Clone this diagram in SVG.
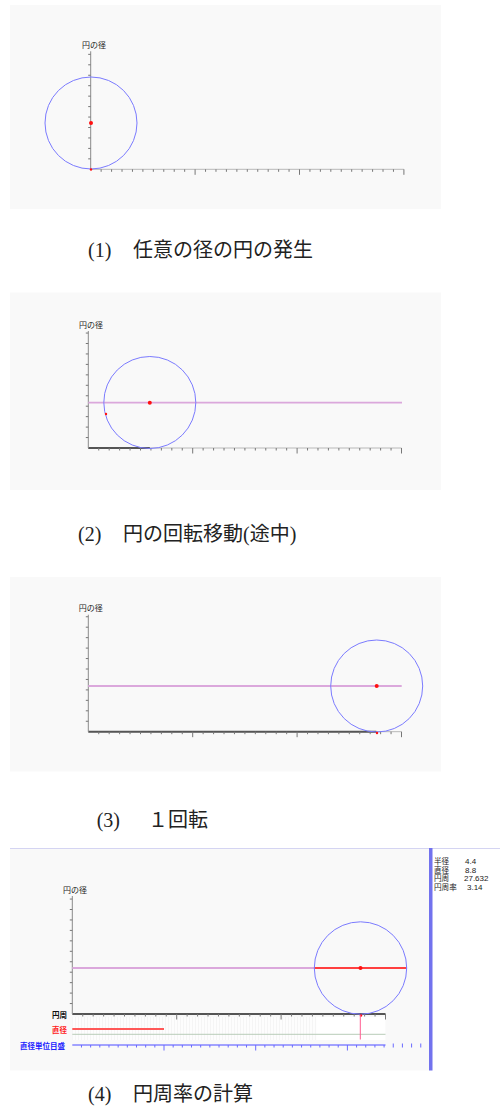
<svg xmlns="http://www.w3.org/2000/svg" width="500" height="1112" viewBox="0 0 500 1112" xmlns:xlink="http://www.w3.org/1999/xlink">
<style>
.bg{fill:#f9f9f9}
.tick{stroke:#777;stroke-width:1;fill:none}
.axl{stroke:#b8b8b8;stroke-width:1}
.axd{stroke:#555;stroke-width:2}
.vax{stroke:#8a8a8a;stroke-width:1}
.circ{fill:none;stroke:#7b7bff;stroke-width:1}
.purp{stroke:#dba8dc;stroke-width:1.8}
.dot{fill:#ff1010}
.lab{font-family:"Noto Sans CJK JP",sans-serif;font-size:8px;fill:#222}
.cap{font-family:"Liberation Serif","Noto Sans CJK JP",serif;font-size:20px;fill:#222}
.info{font-family:"Noto Sans CJK JP",sans-serif;font-size:7.6px;fill:#222}
.num{font-family:"Liberation Sans",sans-serif;font-size:8px}
.small{font-family:"Noto Sans CJK JP",sans-serif;font-size:7.5px;font-weight:bold}
</style>
<defs>
<path id="hticks" class="tick" d="M10.44 0v2.5M20.88 0v2.5M31.32 0v2.5M41.76 0v2.5M52.2 0v2.5M62.64 0v2.5M73.08 0v2.5M83.52 0v2.5M93.96 0v2.5M104.4 0v5.5M114.84 0v2.5M125.28 0v2.5M135.72 0v2.5M146.16 0v2.5M156.6 0v2.5M167.04 0v2.5M177.48 0v2.5M187.92 0v2.5M198.36 0v2.5M208.8 0v5.5M219.24 0v2.5M229.68 0v2.5M240.12 0v2.5M250.56 0v2.5M261 0v2.5M271.44 0v2.5M281.88 0v2.5M292.32 0v2.5M302.76 0v2.5M313.2 0v5.5"/>
<path id="vticks" class="tick" d="M-2.5 -10.45h2.5M-2.5 -20.9h2.5M-2.5 -31.35h2.5M-2.5 -41.8h2.5M-2.5 -52.25h2.5M-2.5 -62.7h2.5M-2.5 -73.15h2.5M-2.5 -83.6h2.5M-2.5 -94.05h2.5M-2.5 -104.5h2.5M-2.5 -114.95h2.5"/>
<pattern id="stripes" width="3" height="10" patternUnits="userSpaceOnUse">
<rect width="3" height="10" fill="#fdfdfd"/>
<rect width="1" height="10" fill="#f5f5f5"/>
</pattern>
</defs>

<g id="panel1">
<rect class="bg" x="10" y="5" width="431" height="204"/>
<g transform="translate(90.7,169.3)">
<line class="axl" x1="0" y1="0" x2="313.2" y2="0"/>
<use xlink:href="#hticks"/>
<line class="vax" x1="0" y1="0" x2="0" y2="-118"/>
<use xlink:href="#vticks"/>
</g>
<text class="lab" x="82" y="48">円の径</text>
<circle class="circ" cx="91" cy="123" r="46"/>
<circle class="dot" cx="91" cy="123" r="2"/>
<circle class="dot" cx="91" cy="169.5" r="1.2"/>
</g>

<g id="caption1">
<text class="cap" x="88" y="257">(1)</text>
<text class="cap" x="133" y="257">任意の径の円の発生</text>
</g>

<g id="panel2">
<rect class="bg" x="10" y="292.5" width="431" height="197.5"/>
<g transform="translate(88.3,448)">
<line class="axl" x1="0" y1="0" x2="313.2" y2="0"/>
<line class="axd" x1="0" y1="0" x2="61.5" y2="0"/>
<use xlink:href="#hticks"/>
<line class="vax" x1="0" y1="0" x2="0" y2="-117"/>
<use xlink:href="#vticks"/>
</g>
<text class="lab" x="79" y="327.5">円の径</text>
<line class="purp" x1="88.3" y1="402.7" x2="402" y2="402.7"/>
<circle class="circ" cx="149.8" cy="402.5" r="46"/>
<circle class="dot" cx="149.8" cy="402.7" r="2"/>
<circle class="dot" cx="106" cy="414" r="1.2"/>
</g>

<g id="caption2">
<text class="cap" x="78" y="541">(2)</text>
<text class="cap" x="123" y="541">円の回転移動(途中)</text>
</g>

<g id="panel3">
<rect class="bg" x="10" y="577" width="431" height="194.5"/>
<g transform="translate(88.3,731.7)">
<line class="axl" x1="0" y1="0" x2="313.2" y2="0"/>
<line class="axd" x1="0" y1="0" x2="288" y2="0"/>
<use xlink:href="#hticks"/>
<line class="vax" x1="0" y1="0" x2="0" y2="-117"/>
<use xlink:href="#vticks"/>
</g>
<text class="lab" x="78.7" y="611">円の径</text>
<line class="purp" x1="88.3" y1="686" x2="401.7" y2="686"/>
<circle class="circ" cx="376.7" cy="686" r="46"/>
<circle class="dot" cx="376.7" cy="686" r="2"/>
<circle class="dot" cx="377" cy="733" r="1.2"/>
</g>

<g id="caption3">
<text class="cap" x="96.7" y="827">(3)</text>
<text class="cap" x="148" y="827">１回転</text>
</g>

<g id="panel4">
<rect class="bg" x="10" y="848" width="420" height="222.5"/>
<rect x="433" y="848" width="67" height="222.5" fill="#ffffff"/>
<line x1="10" y1="848.5" x2="500" y2="848.5" stroke="#d4d4f2" stroke-width="1"/>
<rect x="429" y="848" width="3.5" height="222.5" fill="#7272ee"/>
<text class="info"><tspan x="434" y="864">半径</tspan><tspan class="num" x="465" y="864">4.4</tspan><tspan x="434" y="872.7">直径</tspan><tspan class="num" x="465" y="872.7">8.8</tspan><tspan x="434" y="881.4">円周</tspan><tspan class="num" x="464" y="881.4">27.632</tspan><tspan x="434" y="890.1">円周率</tspan><tspan class="num" x="467" y="890.1">3.14</tspan></text>

<rect x="72.3" y="1017" width="244" height="23" fill="url(#stripes)"/>
<rect x="316.3" y="1017" width="69" height="23" fill="#ffffff"/>
<g transform="translate(72.3,1014)">
<line class="axd" x1="0" y1="0" x2="313.2" y2="0"/>
<use xlink:href="#hticks"/>
<line class="vax" x1="0" y1="0" x2="0" y2="-118"/>
<use xlink:href="#vticks"/>
</g>
<text class="lab" x="63" y="893">円の径</text>
<line class="purp" x1="72.3" y1="968" x2="314" y2="968"/>
<line x1="314" y1="968" x2="406.7" y2="968" stroke="#ff4040" stroke-width="2"/>
<circle class="circ" cx="360.5" cy="968" r="46.2"/>
<circle class="dot" cx="360.5" cy="968" r="2"/>
<circle class="dot" cx="361" cy="1015.5" r="1.2"/>

<text class="small" x="52" y="1018" fill="#111">円周</text>
<text class="small" x="52" y="1033" fill="#ff2020">直径</text>
<text class="small" x="20" y="1049" fill="#2020ff">直径単位目盛</text>
<line x1="72.3" y1="1029" x2="164" y2="1029" stroke="#ff5858" stroke-width="2"/>
<line x1="72.3" y1="1034.3" x2="385.5" y2="1034.3" stroke="#b8ccb8" stroke-width="1"/>
<line x1="360.3" y1="1015" x2="360.3" y2="1039.5" stroke="#ff5c90" stroke-width="1"/>
<line x1="72.3" y1="1045" x2="385.5" y2="1045" stroke="#8484ff" stroke-width="1.5"/>
<path transform="translate(72.3,1045)" stroke="#6a6aff" stroke-width="1" fill="none" d="M9.17 0v2.5M18.34 0v2.5M27.51 0v2.5M36.68 0v2.5M45.85 0v2.5M55.02 0v2.5M64.19 0v2.5M73.36 0v2.5M82.53 0v2.5M91.7 0v5.5M100.87 0v2.5M110.04 0v2.5M119.21 0v2.5M128.38 0v2.5M137.55 0v2.5M146.72 0v2.5M155.89 0v2.5M165.06 0v2.5M174.23 0v2.5M183.4 0v5.5M192.57 0v2.5M201.74 0v2.5M210.91 0v2.5M220.08 0v2.5M229.25 0v2.5M238.42 0v2.5M247.59 0v2.5M256.76 0v2.5M265.93 0v2.5M275.1 0v5.5M284.27 0v2.5M293.44 0v2.5M302.61 0v2.5M311.78 0v2.5M320.95 -1.5v4M330.12 -1.5v4M339.29 -1.5v4M348.46 -1.5v4"/>
</g>

<g id="caption4">
<text class="cap" x="88" y="1101">(4)</text>
<text class="cap" x="133" y="1101">円周率の計算</text>
</g>
</svg>
